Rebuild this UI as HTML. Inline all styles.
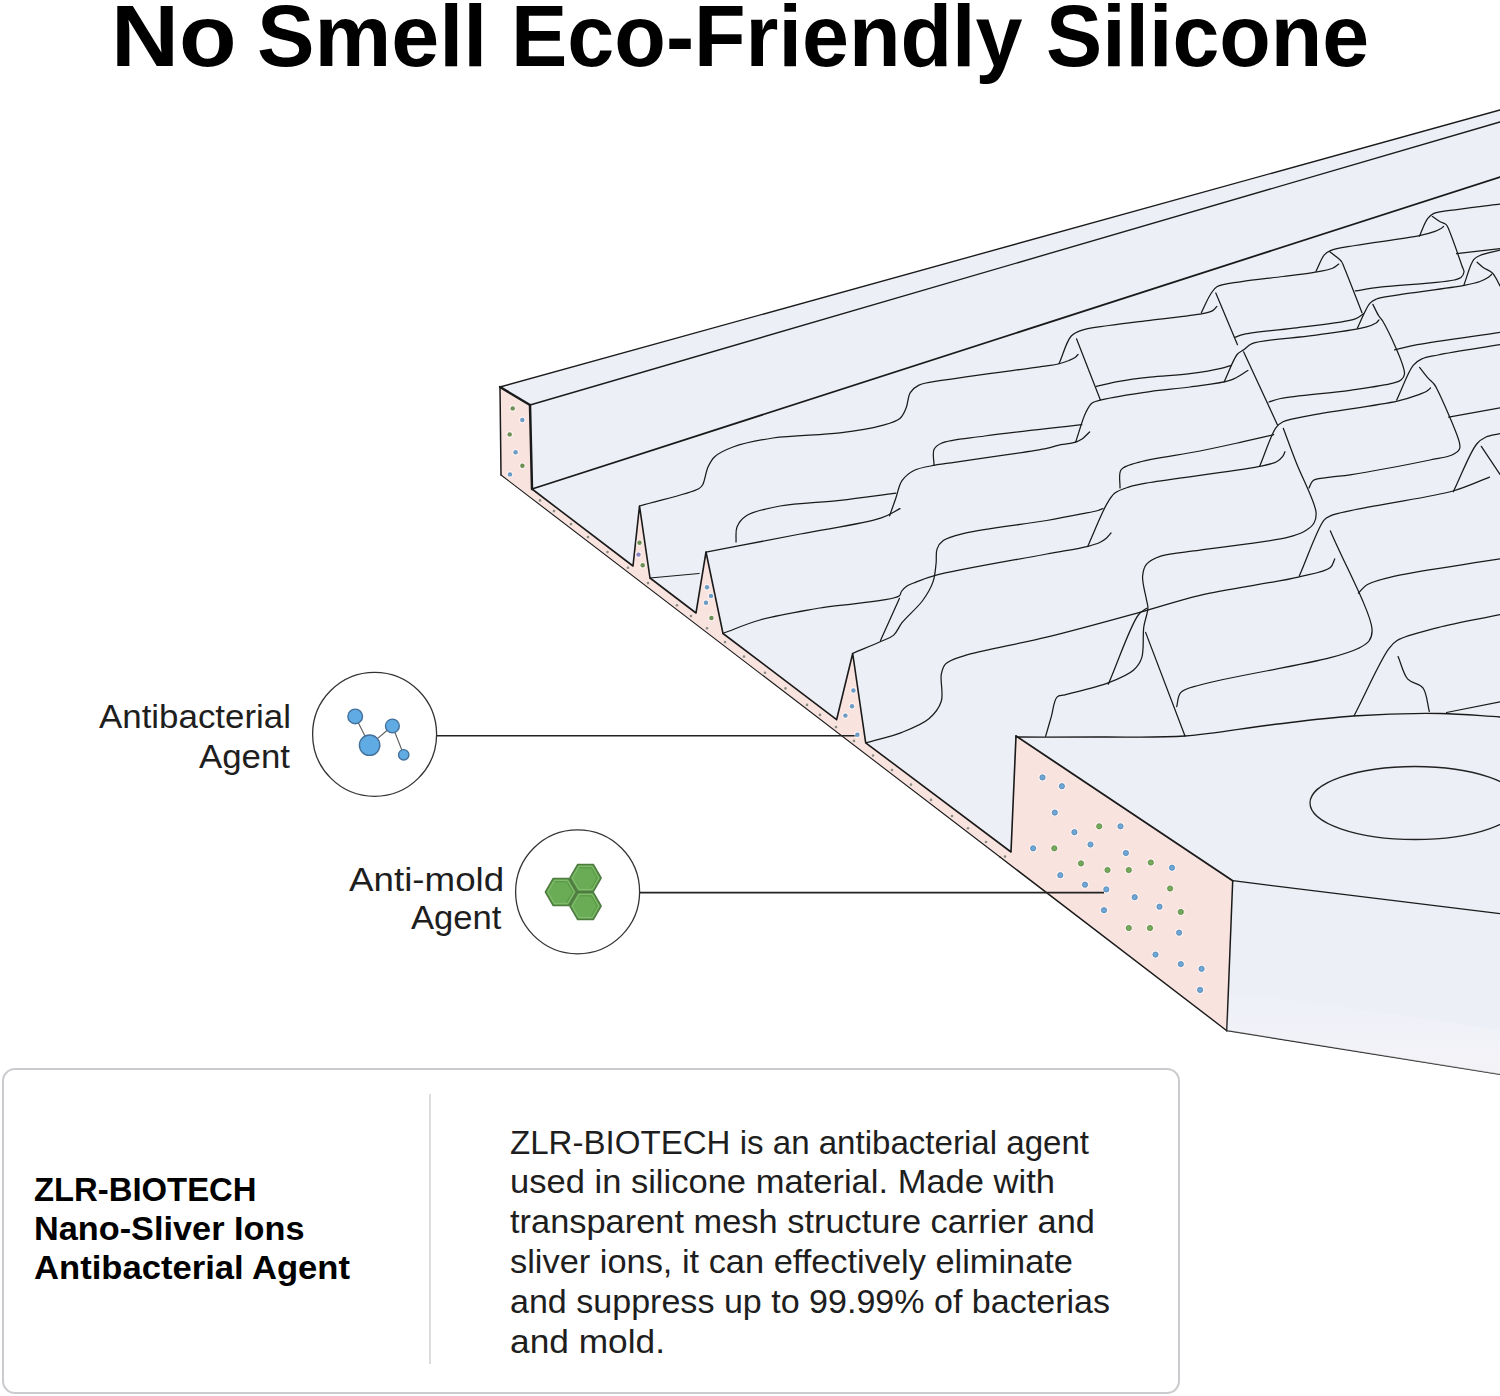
<!DOCTYPE html>
<html><head><meta charset="utf-8"><style>
html,body{margin:0;padding:0;background:#fff;width:1500px;height:1396px;overflow:hidden}
svg{display:block}
text{font-family:"Liberation Sans",sans-serif}
</style></head><body>
<svg width="1500" height="1396" viewBox="0 0 1500 1396">
<text x="111.0" y="66" font-size="87" font-weight="bold" fill="#000" textLength="125.6" lengthAdjust="spacingAndGlyphs">No</text>
<text x="257.0" y="66" font-size="87" font-weight="bold" fill="#000" textLength="230.2" lengthAdjust="spacingAndGlyphs">Smell</text>
<text x="511.0" y="66" font-size="87" font-weight="bold" fill="#000" textLength="511.5" lengthAdjust="spacingAndGlyphs">Eco-Friendly</text>
<text x="1046.0" y="66" font-size="87" font-weight="bold" fill="#000" textLength="323.1" lengthAdjust="spacingAndGlyphs">Silicone</text>
<polygon points="500.0,387.0 1500.0,110.0 1500.0,1075.0 1227.0,1031.0 501.0,475.0" fill="#edeff7"/>
<polygon points="500.0,387.0 530.0,405.0 532.0,489.0 633.0,566.0 639.5,506.0 650.0,578.0 696.0,613.0 706.0,552.0 723.0,633.5 836.6,719.7 852.7,653.5 865.7,742.8 1011.0,852.0 1016.0,736.0 1232.7,880.7 1226.8,1030.7 501.0,475.0" fill="#f9e3df"/>
<polyline points="501.0,475.0 500.0,387.0" fill="none" stroke="#1a1a1a" stroke-width="1.5" stroke-linejoin="round" stroke-linecap="round"/>
<polyline points="500.0,387.0 1500.0,110.0" fill="none" stroke="#1a1a1a" stroke-width="1.35" stroke-linejoin="round" stroke-linecap="round"/>
<polyline points="500.0,387.0 530.0,405.0" fill="none" stroke="#1a1a1a" stroke-width="2.4" stroke-linejoin="round" stroke-linecap="round"/>
<polyline points="530.0,405.0 1500.0,122.0" fill="none" stroke="#1a1a1a" stroke-width="1.35" stroke-linejoin="round" stroke-linecap="round"/>
<polyline points="530.0,405.0 532.0,489.0" fill="none" stroke="#1a1a1a" stroke-width="2.5" stroke-linejoin="round" stroke-linecap="round"/>
<polyline points="532.0,489.0 1500.0,177.0" fill="none" stroke="#1a1a1a" stroke-width="1.8" stroke-linejoin="round" stroke-linecap="round"/>
<polyline points="532.0,489.0 633.0,566.0 639.5,506.0 650.0,578.0 696.0,613.0 706.0,552.0 723.0,633.5 836.6,719.7 852.7,653.5 865.7,742.8 1011.0,852.0 1016.0,736.0" fill="none" stroke="#1a1a1a" stroke-width="1.6" stroke-linejoin="round" stroke-linecap="round"/>
<polyline points="1016.0,736.0 1232.7,880.7" fill="none" stroke="#1a1a1a" stroke-width="1.8" stroke-linejoin="round" stroke-linecap="round"/>
<polyline points="1232.7,880.7 1226.8,1030.7" fill="none" stroke="#1a1a1a" stroke-width="1.5" stroke-linejoin="round" stroke-linecap="round"/>
<polyline points="501.0,475.0 1000.0,857.0" fill="none" stroke="#1a1a1a" stroke-width="1.1" stroke-linejoin="round" stroke-linecap="round"/>
<polyline points="1000.0,857.0 1226.8,1030.7" fill="none" stroke="#1a1a1a" stroke-width="1.4" stroke-linejoin="round" stroke-linecap="round"/>
<polyline points="1226.8,1030.7 1500.0,1074.4" fill="none" stroke="#1a1a1a" stroke-width="1.2" stroke-linejoin="round" stroke-linecap="round"/>
<polyline points="1232.7,880.7 1500.0,913.7" fill="none" stroke="#1a1a1a" stroke-width="1.3" stroke-linejoin="round" stroke-linecap="round"/>
<defs><linearGradient id="gb" x1="0" y1="0" x2="0" y2="1"><stop offset="0" stop-color="#fff" stop-opacity="0"/><stop offset="1" stop-color="#f8f5f6" stop-opacity="0.55"/></linearGradient></defs>
<polygon points="1229.0,990.0 1500.0,1030.0 1500.0,1074.4 1226.8,1030.7" fill="url(#gb)"/>
<path d="M1016.0,737.0 C1044.0,737.0 1071.9,737.2 1100.0,737.0 C1128.2,736.8 1156.7,738.0 1185.0,736.0 C1213.4,734.0 1241.8,728.4 1270.0,725.0 C1297.8,721.7 1325.0,717.9 1353.0,716.0 C1381.6,714.0 1413.7,713.1 1440.0,713.5 C1461.9,713.8 1480.0,715.8 1500.0,717.0" fill="none" stroke="#1a1a1a" stroke-width="1.3" stroke-linecap="round"/>
<ellipse cx="1415" cy="803" rx="105" ry="36.5" fill="none" stroke="#222" stroke-width="1.3"/>
<circle cx="1042.5" cy="777.4" r="4" fill="#fff" fill-opacity="0.55"/><circle cx="1042.5" cy="777.4" r="2.6" fill="#6fa6d4" stroke="#4f86b6" stroke-width="0.8"/>
<circle cx="1061.9" cy="786.2" r="4" fill="#fff" fill-opacity="0.55"/><circle cx="1061.9" cy="786.2" r="2.6" fill="#6fa6d4" stroke="#4f86b6" stroke-width="0.8"/>
<circle cx="1054.8" cy="812.6" r="4" fill="#fff" fill-opacity="0.55"/><circle cx="1054.8" cy="812.6" r="2.6" fill="#6fa6d4" stroke="#4f86b6" stroke-width="0.8"/>
<circle cx="1074.4" cy="832.2" r="4" fill="#fff" fill-opacity="0.55"/><circle cx="1074.4" cy="832.2" r="2.6" fill="#6fa6d4" stroke="#4f86b6" stroke-width="0.8"/>
<circle cx="1120.5" cy="826.3" r="4" fill="#fff" fill-opacity="0.55"/><circle cx="1120.5" cy="826.3" r="2.6" fill="#6fa6d4" stroke="#4f86b6" stroke-width="0.8"/>
<circle cx="1090.5" cy="844.5" r="4" fill="#fff" fill-opacity="0.55"/><circle cx="1090.5" cy="844.5" r="2.6" fill="#6fa6d4" stroke="#4f86b6" stroke-width="0.8"/>
<circle cx="1033.1" cy="848.3" r="4" fill="#fff" fill-opacity="0.55"/><circle cx="1033.1" cy="848.3" r="2.6" fill="#6fa6d4" stroke="#4f86b6" stroke-width="0.8"/>
<circle cx="1125.9" cy="853" r="4" fill="#fff" fill-opacity="0.55"/><circle cx="1125.9" cy="853" r="2.6" fill="#6fa6d4" stroke="#4f86b6" stroke-width="0.8"/>
<circle cx="1172" cy="867.7" r="4" fill="#fff" fill-opacity="0.55"/><circle cx="1172" cy="867.7" r="2.6" fill="#6fa6d4" stroke="#4f86b6" stroke-width="0.8"/>
<circle cx="1060.3" cy="875.2" r="4" fill="#fff" fill-opacity="0.55"/><circle cx="1060.3" cy="875.2" r="2.6" fill="#6fa6d4" stroke="#4f86b6" stroke-width="0.8"/>
<circle cx="1085" cy="884.7" r="4" fill="#fff" fill-opacity="0.55"/><circle cx="1085" cy="884.7" r="2.6" fill="#6fa6d4" stroke="#4f86b6" stroke-width="0.8"/>
<circle cx="1106.3" cy="889.4" r="4" fill="#fff" fill-opacity="0.55"/><circle cx="1106.3" cy="889.4" r="2.6" fill="#6fa6d4" stroke="#4f86b6" stroke-width="0.8"/>
<circle cx="1134.7" cy="897.2" r="4" fill="#fff" fill-opacity="0.55"/><circle cx="1134.7" cy="897.2" r="2.6" fill="#6fa6d4" stroke="#4f86b6" stroke-width="0.8"/>
<circle cx="1159.5" cy="906.7" r="4" fill="#fff" fill-opacity="0.55"/><circle cx="1159.5" cy="906.7" r="2.6" fill="#6fa6d4" stroke="#4f86b6" stroke-width="0.8"/>
<circle cx="1104" cy="910.2" r="4" fill="#fff" fill-opacity="0.55"/><circle cx="1104" cy="910.2" r="2.6" fill="#6fa6d4" stroke="#4f86b6" stroke-width="0.8"/>
<circle cx="1179.1" cy="932.7" r="4" fill="#fff" fill-opacity="0.55"/><circle cx="1179.1" cy="932.7" r="2.6" fill="#6fa6d4" stroke="#4f86b6" stroke-width="0.8"/>
<circle cx="1155.5" cy="954.6" r="4" fill="#fff" fill-opacity="0.55"/><circle cx="1155.5" cy="954.6" r="2.6" fill="#6fa6d4" stroke="#4f86b6" stroke-width="0.8"/>
<circle cx="1180.8" cy="964.1" r="4" fill="#fff" fill-opacity="0.55"/><circle cx="1180.8" cy="964.1" r="2.6" fill="#6fa6d4" stroke="#4f86b6" stroke-width="0.8"/>
<circle cx="1201.6" cy="968.8" r="4" fill="#fff" fill-opacity="0.55"/><circle cx="1201.6" cy="968.8" r="2.6" fill="#6fa6d4" stroke="#4f86b6" stroke-width="0.8"/>
<circle cx="1200.1" cy="989.9" r="4" fill="#fff" fill-opacity="0.55"/><circle cx="1200.1" cy="989.9" r="2.6" fill="#6fa6d4" stroke="#4f86b6" stroke-width="0.8"/>
<circle cx="1099.2" cy="826.3" r="4" fill="#fff" fill-opacity="0.45"/><circle cx="1099.2" cy="826.3" r="2.6" fill="#74a85a" stroke="#5a8c45" stroke-width="0.8"/>
<circle cx="1054.3" cy="848.3" r="4" fill="#fff" fill-opacity="0.45"/><circle cx="1054.3" cy="848.3" r="2.6" fill="#74a85a" stroke="#5a8c45" stroke-width="0.8"/>
<circle cx="1081" cy="863.4" r="4" fill="#fff" fill-opacity="0.45"/><circle cx="1081" cy="863.4" r="2.6" fill="#74a85a" stroke="#5a8c45" stroke-width="0.8"/>
<circle cx="1107.5" cy="870" r="4" fill="#fff" fill-opacity="0.45"/><circle cx="1107.5" cy="870" r="2.6" fill="#74a85a" stroke="#5a8c45" stroke-width="0.8"/>
<circle cx="1128.8" cy="870" r="4" fill="#fff" fill-opacity="0.45"/><circle cx="1128.8" cy="870" r="2.6" fill="#74a85a" stroke="#5a8c45" stroke-width="0.8"/>
<circle cx="1150.8" cy="862.5" r="4" fill="#fff" fill-opacity="0.45"/><circle cx="1150.8" cy="862.5" r="2.6" fill="#74a85a" stroke="#5a8c45" stroke-width="0.8"/>
<circle cx="1170.1" cy="888.5" r="4" fill="#fff" fill-opacity="0.45"/><circle cx="1170.1" cy="888.5" r="2.6" fill="#74a85a" stroke="#5a8c45" stroke-width="0.8"/>
<circle cx="1180.8" cy="911.9" r="4" fill="#fff" fill-opacity="0.45"/><circle cx="1180.8" cy="911.9" r="2.6" fill="#74a85a" stroke="#5a8c45" stroke-width="0.8"/>
<circle cx="1128.8" cy="928" r="4" fill="#fff" fill-opacity="0.45"/><circle cx="1128.8" cy="928" r="2.6" fill="#74a85a" stroke="#5a8c45" stroke-width="0.8"/>
<circle cx="1150" cy="928" r="4" fill="#fff" fill-opacity="0.45"/><circle cx="1150" cy="928" r="2.6" fill="#74a85a" stroke="#5a8c45" stroke-width="0.8"/>
<circle cx="374.6" cy="734.3" r="62" fill="#fff" stroke="#333" stroke-width="1.3"/>
<line x1="437" y1="735.8" x2="856" y2="735.8" stroke="#222" stroke-width="1.6"/>
<circle cx="577.6" cy="891.8" r="62" fill="#fff" stroke="#333" stroke-width="1.3"/>
<line x1="640" y1="892.6" x2="1104" y2="892.6" stroke="#222" stroke-width="1.6"/>
<g stroke="#5c5c5c" stroke-width="1.1"><line x1="355.2" y1="716.4" x2="369.6" y2="745.2"/><line x1="369.6" y1="745.2" x2="392.4" y2="726"/><line x1="392.4" y1="726" x2="403.7" y2="754.8"/></g>
<circle cx="369.6" cy="745.2" r="10.2" fill="#60abe4" stroke="#43709a" stroke-width="1.4"/>
<circle cx="355.2" cy="716.4" r="7.3" fill="#60abe4" stroke="#43709a" stroke-width="1.4"/>
<circle cx="392.4" cy="726" r="6.9" fill="#60abe4" stroke="#43709a" stroke-width="1.4"/>
<circle cx="403.7" cy="754.8" r="5.2" fill="#60abe4" stroke="#43709a" stroke-width="1.4"/>
<polygon points="576.6,892.0 568.8,905.5 553.2,905.5 545.4,892.0 553.2,878.5 568.8,878.5" fill="#6aac56" stroke="#4f7b41" stroke-width="1.5" stroke-linejoin="round"/>
<polygon points="574.2,892.0 567.6,903.4 554.4,903.4 547.8,892.0 554.4,880.6 567.6,880.6" fill="none" stroke="#88bf74" stroke-width="0.9" stroke-linejoin="round"/>
<polyline points="555.1,881.8 566.9,881.8 572.8,892.0 566.9,902.2" fill="none" stroke="#54963f" stroke-width="1" stroke-linejoin="round"/>
<polygon points="601.1,878.0 593.3,891.5 577.7,891.5 569.9,878.0 577.7,864.5 593.3,864.5" fill="#6aac56" stroke="#4f7b41" stroke-width="1.5" stroke-linejoin="round"/>
<polygon points="598.7,878.0 592.1,889.4 578.9,889.4 572.3,878.0 578.9,866.6 592.1,866.6" fill="none" stroke="#88bf74" stroke-width="0.9" stroke-linejoin="round"/>
<polyline points="579.6,867.8 591.4,867.8 597.3,878.0 591.4,888.2" fill="none" stroke="#54963f" stroke-width="1" stroke-linejoin="round"/>
<polygon points="601.1,906.0 593.3,919.5 577.7,919.5 569.9,906.0 577.7,892.5 593.3,892.5" fill="#6aac56" stroke="#4f7b41" stroke-width="1.5" stroke-linejoin="round"/>
<polygon points="598.7,906.0 592.1,917.4 578.9,917.4 572.3,906.0 578.9,894.6 592.1,894.6" fill="none" stroke="#88bf74" stroke-width="0.9" stroke-linejoin="round"/>
<polyline points="579.6,895.8 591.4,895.8 597.3,906.0 591.4,916.2" fill="none" stroke="#54963f" stroke-width="1" stroke-linejoin="round"/>
<text x="99" y="728.4" font-size="33" font-weight="normal" fill="#1e1e1e" textLength="192" lengthAdjust="spacingAndGlyphs">Antibacterial</text>
<text x="199" y="768" font-size="33" font-weight="normal" fill="#1e1e1e" textLength="91" lengthAdjust="spacingAndGlyphs">Agent</text>
<text x="349" y="890.5" font-size="33" font-weight="normal" fill="#1e1e1e" textLength="155.2" lengthAdjust="spacingAndGlyphs">Anti-mold</text>
<text x="411" y="929" font-size="33" font-weight="normal" fill="#1e1e1e" textLength="90.5" lengthAdjust="spacingAndGlyphs">Agent</text>
<rect x="3" y="1069" width="1176" height="324" rx="12" ry="12" fill="#fff" stroke="#c9cbce" stroke-width="2"/>
<line x1="430" y1="1094" x2="430" y2="1364" stroke="#cfd0d2" stroke-width="1.5"/>
<text x="34" y="1200.8" font-size="34" font-weight="bold" fill="#000" textLength="222.5" lengthAdjust="spacingAndGlyphs">ZLR-BIOTECH</text>
<text x="34" y="1239.5" font-size="34" font-weight="bold" fill="#000" textLength="270.5" lengthAdjust="spacingAndGlyphs">Nano-Sliver Ions</text>
<text x="34" y="1279.2" font-size="34" font-weight="bold" fill="#000" textLength="316" lengthAdjust="spacingAndGlyphs">Antibacterial Agent</text>
<text x="510" y="1153.5" font-size="33" font-weight="normal" fill="#1e1e1e" textLength="579" lengthAdjust="spacingAndGlyphs">ZLR-BIOTECH is an antibacterial agent</text>
<text x="510" y="1193.2" font-size="33" font-weight="normal" fill="#1e1e1e" textLength="545" lengthAdjust="spacingAndGlyphs">used in silicone material. Made with</text>
<text x="510" y="1233" font-size="33" font-weight="normal" fill="#1e1e1e" textLength="585" lengthAdjust="spacingAndGlyphs">transparent mesh structure carrier and</text>
<text x="510" y="1272.6" font-size="33" font-weight="normal" fill="#1e1e1e" textLength="563" lengthAdjust="spacingAndGlyphs">sliver ions, it can effectively eliminate</text>
<text x="510" y="1312.6" font-size="33" font-weight="normal" fill="#1e1e1e" textLength="600" lengthAdjust="spacingAndGlyphs">and suppress up to 99.99% of bacterias</text>
<text x="510" y="1352.5" font-size="33" font-weight="normal" fill="#1e1e1e" textLength="155" lengthAdjust="spacingAndGlyphs">and mold.</text>
<path d="M639.5,506.0 C659.2,500.2 690.7,493.4 698.7,488.7 C701.1,487.3 701.5,486.7 702.7,484.7 C704.9,481.0 705.7,472.0 708.0,467.0 C709.9,462.9 711.4,459.7 714.7,456.7 C719.0,452.8 725.5,449.8 733.0,447.0 C743.6,443.1 757.9,440.3 773.0,438.0 C792.4,435.1 820.4,435.3 840.0,432.9 C855.5,431.0 870.4,428.7 881.3,425.7 C888.8,423.6 895.7,422.1 899.9,418.5 C903.2,415.7 904.4,412.0 906.1,408.1 C908.0,403.6 907.8,396.5 910.3,392.6 C912.3,389.4 914.7,387.3 918.5,385.4 C924.3,382.5 932.2,382.1 943.3,380.2 C965.9,376.3 1029.6,368.4 1046.7,365.8 C1052.4,365.0 1054.3,364.9 1058.0,364.0 C1061.7,363.1 1065.9,361.7 1069.0,360.5 C1071.3,359.5 1073.4,358.6 1075.0,357.5 C1076.3,356.6 1077.0,355.5 1078.0,354.5" fill="none" stroke="#1a1a1a" stroke-width="1.25" stroke-linecap="round"/>
<path d="M1059.0,363.7 C1063.2,354.4 1066.2,341.4 1071.5,335.8 C1075.1,332.0 1078.9,331.2 1083.9,329.6 C1090.6,327.4 1099.4,326.9 1108.7,325.5 C1120.7,323.8 1135.4,322.1 1150.0,320.3 C1166.4,318.2 1191.7,316.0 1202.4,313.7 C1207.2,312.7 1210.2,312.1 1212.7,310.6 C1214.6,309.5 1215.5,307.8 1216.9,306.4" fill="none" stroke="#1a1a1a" stroke-width="1.25" stroke-linecap="round"/>
<path d="M1076.6,338.9 L1100.4,399.9" fill="none" stroke="#1a1a1a" stroke-width="1.25" stroke-linecap="round"/>
<path d="M1096.3,386.4 C1103.9,384.7 1110.8,382.8 1119.0,381.3 C1128.5,379.6 1139.0,378.3 1150.0,377.1 C1162.5,375.7 1177.5,375.2 1190.0,373.6 C1201.0,372.2 1213.5,370.2 1221.0,368.4 C1225.4,367.4 1227.9,366.3 1231.3,365.3" fill="none" stroke="#1a1a1a" stroke-width="1.25" stroke-linecap="round"/>
<path d="M1075.6,442.2 C1079.0,432.2 1082.4,419.3 1085.9,412.3 C1088.0,408.1 1089.4,405.1 1092.1,403.0 C1094.6,401.1 1097.0,401.0 1101.4,399.9 C1111.2,397.4 1134.6,393.8 1150.0,391.6 C1164.0,389.6 1176.6,388.9 1190.0,387.0 C1203.7,385.0 1220.9,383.5 1231.3,379.8 C1238.3,377.3 1242.4,373.6 1247.9,370.5" fill="none" stroke="#1a1a1a" stroke-width="1.25" stroke-linecap="round"/>
<path d="M1201.4,312.6 C1204.5,306.4 1207.6,298.6 1210.7,294.0 C1212.8,290.9 1213.7,288.7 1216.9,286.8 C1222.1,283.7 1232.3,283.2 1241.7,281.6 C1253.7,279.6 1270.2,278.2 1283.0,276.5 C1294.1,275.1 1305.0,273.9 1314.0,272.3 C1321.0,271.1 1328.2,270.1 1332.6,268.2 C1335.4,267.0 1336.7,265.5 1338.8,264.1" fill="none" stroke="#1a1a1a" stroke-width="1.25" stroke-linecap="round"/>
<path d="M1215.8,293.0 L1237.5,344.7" fill="none" stroke="#1a1a1a" stroke-width="1.25" stroke-linecap="round"/>
<path d="M1234.4,337.4 C1237.5,336.4 1239.3,335.3 1243.7,334.3 C1253.6,332.0 1275.9,330.5 1293.3,328.1 C1312.8,325.4 1344.4,322.8 1355.3,318.8 C1359.6,317.2 1360.8,315.4 1363.6,313.7" fill="none" stroke="#1a1a1a" stroke-width="1.25" stroke-linecap="round"/>
<path d="M1224.1,381.9 C1228.6,372.6 1233.2,359.0 1237.5,354.0 C1239.6,351.6 1241.5,351.4 1243.7,349.8 C1246.3,348.0 1247.6,345.4 1252.0,343.6 C1262.8,339.2 1294.3,338.3 1314.0,335.4 C1332.0,332.8 1355.2,330.0 1365.7,327.1 C1370.6,325.8 1373.7,324.5 1376.0,323.0 C1377.4,322.0 1378.0,320.9 1379.0,319.9" fill="none" stroke="#1a1a1a" stroke-width="1.25" stroke-linecap="round"/>
<path d="M1316.0,271.3 C1318.8,265.8 1321.2,258.3 1324.3,254.8 C1326.2,252.6 1327.6,251.8 1330.5,250.6 C1335.9,248.3 1345.1,247.3 1355.3,245.5 C1371.7,242.6 1405.5,238.6 1419.5,235.6 C1426.5,234.1 1431.1,232.7 1435.0,231.3 C1437.5,230.4 1439.5,229.4 1441.0,228.5 C1442.1,227.8 1442.7,227.2 1443.5,226.5" fill="none" stroke="#1a1a1a" stroke-width="1.25" stroke-linecap="round"/>
<path d="M1329.6,251.6 C1331.7,253.3 1334.0,254.9 1336.0,256.6 C1337.9,258.2 1340.1,259.7 1341.5,261.5 C1342.7,263.2 1342.8,264.3 1344.0,267.0 C1347.3,274.8 1356.0,297.5 1362.0,312.8" fill="none" stroke="#1a1a1a" stroke-width="1.25" stroke-linecap="round"/>
<path d="M1432.4,216.6 C1435.0,218.3 1437.7,220.4 1440.2,221.8 C1442.3,223.0 1444.7,223.2 1446.2,224.6 C1447.6,226.0 1447.8,227.3 1449.0,230.0 C1451.9,236.6 1459.6,259.0 1462.0,266.0 C1463.0,268.8 1464.2,270.1 1464.0,272.0 C1463.8,273.9 1462.5,276.2 1461.0,277.5 C1459.3,278.9 1457.0,279.3 1454.0,280.0 C1448.7,281.3 1440.6,281.9 1431.6,282.8 C1417.9,284.2 1394.0,285.4 1380.0,287.1 C1370.2,288.3 1363.5,289.6 1355.3,290.9" fill="none" stroke="#1a1a1a" stroke-width="1.25" stroke-linecap="round"/>
<path d="M1419.4,236.2 C1422.1,230.3 1424.6,222.5 1427.6,218.6 C1429.6,216.1 1430.9,214.8 1433.9,213.4 C1439.2,211.0 1449.4,210.7 1458.7,209.3 C1470.7,207.6 1486.2,205.8 1500.0,204.1" fill="none" stroke="#1a1a1a" stroke-width="1.25" stroke-linecap="round"/>
<path d="M1456.6,253.7 L1500.0,248.6" fill="none" stroke="#1a1a1a" stroke-width="1.25" stroke-linecap="round"/>
<path d="M1463.8,285.4 C1467.1,276.8 1469.9,264.3 1473.7,259.6 C1475.7,257.2 1477.2,256.8 1480.0,255.5 C1484.7,253.4 1493.3,252.0 1500.0,250.2" fill="none" stroke="#1a1a1a" stroke-width="1.25" stroke-linecap="round"/>
<path d="M1477.1,262.2 C1479.1,263.9 1480.9,265.8 1483.2,267.4 C1485.8,269.2 1489.7,270.7 1491.8,272.5 C1493.4,273.9 1494.1,275.0 1495.2,276.8 C1496.8,279.2 1498.4,282.9 1500.0,286.0" fill="none" stroke="#1a1a1a" stroke-width="1.25" stroke-linecap="round"/>
<path d="M650.0,578.0 L699.0,573.5" fill="none" stroke="#1a1a1a" stroke-width="1.25" stroke-linecap="round"/>
<path d="M706.0,552.2 C737.4,546.1 770.1,539.9 800.3,534.0 C828.3,528.5 864.0,523.8 881.3,517.9 C890.0,514.9 893.8,511.7 900.0,508.6" fill="none" stroke="#1a1a1a" stroke-width="1.25" stroke-linecap="round"/>
<path d="M736.0,542.0 C736.3,537.0 735.3,531.4 737.0,527.0 C738.7,522.7 741.4,519.1 746.0,516.0 C753.3,511.2 766.9,508.5 780.0,506.0 C797.0,502.7 820.4,502.5 840.0,500.3 C859.0,498.2 877.2,495.5 895.8,493.1" fill="none" stroke="#1a1a1a" stroke-width="1.25" stroke-linecap="round"/>
<path d="M889.6,515.8 C891.7,509.9 893.7,504.1 895.8,498.2 C897.9,492.4 898.7,485.4 902.0,480.7 C905.1,476.3 909.4,472.8 914.4,470.3 C920.1,467.4 929.8,466.3 935.1,465.2 C938.4,464.5 939.0,464.6 943.3,463.9 C958.4,461.6 1029.6,452.0 1046.7,448.4 C1052.4,447.2 1053.9,446.2 1058.0,445.3 C1062.8,444.2 1069.4,444.0 1073.8,442.7 C1077.1,441.7 1079.5,440.7 1082.1,439.0 C1084.8,437.2 1087.1,434.3 1089.6,432.0" fill="none" stroke="#1a1a1a" stroke-width="1.25" stroke-linecap="round"/>
<path d="M934.0,465.0 C934.0,459.8 932.3,453.2 934.0,449.5 C935.4,446.6 937.5,445.1 941.3,443.3 C949.5,439.5 967.3,438.5 984.7,436.0 C1010.6,432.3 1049.4,428.5 1081.8,424.7" fill="none" stroke="#1a1a1a" stroke-width="1.25" stroke-linecap="round"/>
<path d="M1120.0,488.0 C1120.3,482.0 1118.2,474.2 1121.0,470.0 C1123.7,466.0 1129.1,465.2 1136.0,463.0 C1149.7,458.6 1180.8,454.9 1200.0,451.0 C1215.9,447.8 1230.1,444.6 1243.3,441.7 C1254.3,439.2 1263.6,437.0 1273.7,434.7" fill="none" stroke="#1a1a1a" stroke-width="1.25" stroke-linecap="round"/>
<path d="M1088.0,545.8 C1094.2,532.0 1101.2,513.7 1106.6,504.4 C1109.6,499.2 1111.3,496.0 1114.9,493.1 C1118.7,490.0 1124.0,488.6 1129.3,486.9 C1135.5,484.9 1140.4,484.2 1150.0,482.5 C1171.9,478.6 1237.3,471.1 1258.3,466.7 C1267.1,464.9 1272.5,464.0 1276.7,461.7 C1279.4,460.3 1281.1,458.5 1282.5,456.7 C1283.7,455.1 1284.2,453.4 1285.0,451.7" fill="none" stroke="#1a1a1a" stroke-width="1.25" stroke-linecap="round"/>
<path d="M852.4,653.5 C862.0,649.4 873.7,644.8 881.3,641.3 C886.3,639.0 890.3,638.1 893.7,635.1 C897.2,632.0 898.4,627.3 902.0,622.7 C907.2,616.2 917.3,607.9 922.7,600.5 C927.2,594.3 930.8,588.3 933.0,581.9 C935.1,575.9 935.4,569.1 936.1,563.3 C936.7,558.2 935.6,552.9 937.1,548.9 C938.3,545.5 940.1,542.9 943.3,540.6 C947.9,537.2 954.7,535.7 964.0,533.4 C982.3,528.8 1024.8,524.3 1046.7,520.5 C1061.2,518.0 1073.2,515.6 1082.7,513.7 C1088.9,512.5 1094.3,511.6 1098.0,510.5 C1100.2,509.8 1101.3,509.2 1103.0,508.5" fill="none" stroke="#1a1a1a" stroke-width="1.25" stroke-linecap="round"/>
<path d="M723.0,633.4 C735.3,628.9 746.0,623.9 760.0,620.0 C777.4,615.1 798.6,611.8 820.0,608.0 C844.5,603.7 891.4,601.7 899.1,596.1 C901.1,594.7 900.3,593.0 901.4,591.5 C902.7,589.7 904.5,587.8 906.6,586.3 C909.1,584.6 912.2,583.6 915.9,582.1 C921.0,580.1 925.6,578.0 934.5,575.6 C956.0,569.8 1018.4,559.4 1046.7,554.0 C1063.8,550.8 1078.5,548.7 1088.0,546.3 C1093.1,545.0 1096.5,544.0 1099.7,542.5 C1102.2,541.3 1104.1,540.1 1106.0,538.5 C1107.9,536.9 1109.3,534.8 1111.0,533.0" fill="none" stroke="#1a1a1a" stroke-width="1.25" stroke-linecap="round"/>
<path d="M880.5,640.4 L899.5,598.3" fill="none" stroke="#1a1a1a" stroke-width="1.25" stroke-linecap="round"/>
<path d="M866.4,742.7 C878.3,739.2 891.1,736.6 902.0,732.3 C911.8,728.5 922.1,724.6 928.9,718.8 C934.6,713.9 939.1,708.2 941.3,701.3 C943.7,693.6 940.0,681.2 941.3,674.4 C942.1,670.1 942.7,666.9 945.4,664.1 C949.1,660.2 955.4,658.7 964.0,655.8 C981.6,650.0 1018.4,644.2 1046.7,637.2 C1076.8,629.8 1112.0,620.0 1139.6,612.4 C1161.9,606.3 1177.3,600.6 1200.0,595.3 C1228.6,588.6 1274.5,582.8 1298.2,577.1 C1312.0,573.8 1324.9,572.1 1330.4,567.5 C1333.3,565.0 1333.3,561.8 1334.7,558.9" fill="none" stroke="#1a1a1a" stroke-width="1.25" stroke-linecap="round"/>
<path d="M1045.6,736.4 C1047.5,729.8 1049.4,723.3 1051.3,716.7 C1053.2,710.2 1053.7,700.3 1057.0,697.1 C1059.1,695.0 1061.3,695.9 1065.0,694.9 C1073.7,692.5 1096.4,687.5 1108.7,682.7 C1118.3,679.0 1127.7,675.3 1133.4,670.3 C1137.6,666.6 1139.9,663.3 1141.7,657.9 C1144.3,650.1 1142.5,635.9 1143.8,626.9 C1144.8,619.9 1147.8,613.2 1147.9,608.3 C1148.0,605.1 1147.2,603.7 1146.6,600.3 C1145.6,594.4 1142.1,582.8 1142.6,576.2 C1143.0,571.5 1143.9,567.4 1146.6,564.2 C1149.6,560.5 1154.6,558.3 1160.7,556.2 C1170.3,552.9 1184.3,552.5 1200.0,550.2 C1223.4,546.7 1269.6,541.9 1287.5,537.4 C1295.7,535.3 1300.3,533.8 1305.0,531.0 C1308.8,528.8 1312.2,526.2 1314.0,523.0 C1315.8,519.9 1316.5,516.9 1316.0,512.0 C1314.9,501.3 1301.8,477.1 1296.0,462.0 C1291.2,449.7 1287.5,439.5 1283.3,428.3" fill="none" stroke="#1a1a1a" stroke-width="1.25" stroke-linecap="round"/>
<path d="M1243.7,351.9 L1277.5,425.0" fill="none" stroke="#1a1a1a" stroke-width="1.25" stroke-linecap="round"/>
<path d="M1108.3,684.2 C1118.3,661.1 1130.2,625.6 1138.3,615.0 C1141.4,611.0 1143.9,610.5 1146.7,608.3" fill="none" stroke="#1a1a1a" stroke-width="1.25" stroke-linecap="round"/>
<path d="M1145.6,632.4 L1185.0,736.0" fill="none" stroke="#1a1a1a" stroke-width="1.25" stroke-linecap="round"/>
<path d="M1176.7,706.6 C1178.0,701.9 1177.5,696.1 1180.7,692.6 C1184.5,688.4 1190.5,687.8 1200.0,685.0 C1224.0,677.8 1303.1,665.1 1330.4,657.7 C1343.1,654.3 1351.1,651.9 1358.0,648.5 C1362.7,646.2 1366.7,644.3 1369.0,641.0 C1371.2,637.8 1372.5,634.8 1372.0,629.0 C1370.7,611.9 1344.3,563.6 1330.4,530.9" fill="none" stroke="#1a1a1a" stroke-width="1.25" stroke-linecap="round"/>
<path d="M1419.5,367.4 C1422.1,370.7 1424.8,374.5 1427.4,377.4 C1429.6,379.9 1432.3,381.9 1434.0,384.0 C1435.3,385.7 1435.7,386.4 1437.0,389.0 C1441.2,397.3 1457.7,433.9 1459.5,443.0 C1460.1,445.9 1460.4,447.2 1459.5,449.0 C1458.4,451.3 1455.4,453.4 1452.0,455.0 C1446.8,457.5 1439.6,458.0 1430.0,460.0 C1411.7,463.8 1367.7,472.1 1350.0,474.8 C1341.3,476.1 1336.7,476.2 1330.4,477.2 C1324.5,478.1 1316.7,477.8 1313.2,480.4 C1310.7,482.2 1310.4,485.5 1309.0,488.0" fill="none" stroke="#1a1a1a" stroke-width="1.25" stroke-linecap="round"/>
<path d="M1299.3,576.0 C1307.5,557.4 1317.4,528.1 1324.0,520.2 C1326.3,517.4 1327.1,517.3 1330.4,515.9 C1338.2,512.5 1356.8,509.6 1373.4,506.2 C1395.8,501.5 1431.8,497.0 1453.0,491.0 C1467.7,486.8 1477.3,481.8 1489.5,477.2" fill="none" stroke="#1a1a1a" stroke-width="1.25" stroke-linecap="round"/>
<path d="M1358.4,593.2 C1361.3,590.4 1362.9,587.1 1367.0,584.7 C1373.4,580.9 1382.5,579.0 1394.9,576.1 C1418.6,570.5 1465.0,564.6 1500.0,558.9" fill="none" stroke="#1a1a1a" stroke-width="1.25" stroke-linecap="round"/>
<path d="M1354.1,715.7 C1365.6,693.5 1380.1,660.5 1388.5,649.1 C1391.9,644.5 1392.7,643.2 1397.1,640.5 C1405.3,635.5 1422.8,631.6 1437.9,627.6 C1456.3,622.8 1479.3,619.0 1500.0,614.7" fill="none" stroke="#1a1a1a" stroke-width="1.25" stroke-linecap="round"/>
<path d="M1398.1,656.6 C1401.3,664.1 1403.1,673.9 1407.8,679.2 C1411.8,683.6 1419.3,683.2 1422.9,687.8 C1427.1,693.3 1427.2,703.6 1429.3,711.5" fill="none" stroke="#1a1a1a" stroke-width="1.25" stroke-linecap="round"/>
<path d="M1446.5,712.5 L1500.0,701.8" fill="none" stroke="#1a1a1a" stroke-width="1.25" stroke-linecap="round"/>
<path d="M1453.3,491.8 C1461.1,475.9 1469.7,452.5 1476.7,444.0 C1480.0,440.0 1482.4,438.7 1486.0,437.0 C1490.0,435.1 1495.3,434.7 1500.0,433.5" fill="none" stroke="#1a1a1a" stroke-width="1.25" stroke-linecap="round"/>
<path d="M1481.3,446.3 L1500.0,474.3" fill="none" stroke="#1a1a1a" stroke-width="1.25" stroke-linecap="round"/>
<path d="M1448.7,417.2 L1500.0,407.8" fill="none" stroke="#1a1a1a" stroke-width="1.25" stroke-linecap="round"/>
<path d="M1259.7,466.2 C1265.1,453.4 1270.9,434.7 1276.0,427.7 C1278.4,424.4 1279.6,423.5 1283.0,421.8 C1289.3,418.6 1300.6,417.3 1313.3,414.8 C1334.3,410.7 1378.6,405.4 1397.3,401.1 C1406.9,398.9 1413.4,396.6 1418.8,394.6 C1422.2,393.3 1424.9,392.3 1427.0,391.0 C1428.5,390.1 1429.3,389.0 1430.5,388.0" fill="none" stroke="#1a1a1a" stroke-width="1.25" stroke-linecap="round"/>
<path d="M1269.0,402.0 C1272.9,400.8 1275.1,399.7 1280.7,398.5 C1294.1,395.7 1329.7,393.2 1350.0,390.3 C1366.1,388.0 1384.4,385.6 1393.0,383.2 C1396.8,382.1 1399.1,381.7 1401.0,380.0 C1402.7,378.5 1404.3,377.1 1404.5,374.0 C1405.1,365.2 1387.9,330.0 1383.0,321.5 C1381.3,318.5 1380.1,318.1 1378.7,315.8 C1376.8,312.7 1374.8,308.2 1372.9,304.4" fill="none" stroke="#1a1a1a" stroke-width="1.25" stroke-linecap="round"/>
<path d="M1394.6,349.8 C1402.2,348.1 1407.3,346.6 1417.3,344.7 C1436.2,341.2 1472.4,336.4 1500.0,332.3" fill="none" stroke="#1a1a1a" stroke-width="1.25" stroke-linecap="round"/>
<path d="M1357.4,328.1 C1361.5,319.8 1365.8,307.9 1369.8,303.3 C1371.9,300.9 1373.2,300.4 1376.0,299.2 C1380.8,297.2 1387.8,296.6 1396.7,295.1 C1412.7,292.4 1449.6,288.2 1464.2,285.4 C1471.3,284.0 1475.7,283.1 1480.0,281.5 C1483.2,280.3 1485.9,278.9 1488.0,277.5 C1489.5,276.5 1490.3,275.5 1491.5,274.5" fill="none" stroke="#1a1a1a" stroke-width="1.25" stroke-linecap="round"/>
<path d="M1396.7,400.0 C1402.2,388.4 1407.8,371.9 1413.2,365.3 C1416.0,361.9 1418.0,360.7 1421.4,359.1 C1425.8,357.0 1430.7,356.5 1438.0,355.0 C1452.1,352.1 1479.3,348.1 1500.0,344.7" fill="none" stroke="#1a1a1a" stroke-width="1.25" stroke-linecap="round"/>
<circle cx="540" cy="500.4" r="1.3" fill="#8a8f86"/>
<circle cx="554" cy="511.1" r="1.3" fill="#8a8f86"/>
<circle cx="571" cy="524.1" r="1.3" fill="#8a8f86"/>
<circle cx="588" cy="537.1" r="1.3" fill="#8a8f86"/>
<circle cx="607.5" cy="552.1" r="1.3" fill="#8a8f86"/>
<circle cx="628" cy="567.8" r="1.3" fill="#8a8f86"/>
<circle cx="648" cy="583.1" r="1.3" fill="#8a8f86"/>
<circle cx="677" cy="605.3" r="1.3" fill="#8a8f86"/>
<circle cx="691" cy="616.0" r="1.3" fill="#8a8f86"/>
<circle cx="707" cy="628.3" r="1.3" fill="#8a8f86"/>
<circle cx="725" cy="642.1" r="1.3" fill="#8a8f86"/>
<circle cx="744" cy="656.6" r="1.3" fill="#8a8f86"/>
<circle cx="765" cy="672.7" r="1.3" fill="#8a8f86"/>
<circle cx="785.5" cy="688.4" r="1.3" fill="#8a8f86"/>
<circle cx="807" cy="704.9" r="1.3" fill="#8a8f86"/>
<circle cx="820" cy="714.9" r="1.3" fill="#8a8f86"/>
<circle cx="836" cy="727.1" r="1.3" fill="#8a8f86"/>
<circle cx="854" cy="740.9" r="1.3" fill="#8a8f86"/>
<circle cx="873" cy="755.5" r="1.3" fill="#8a8f86"/>
<circle cx="892" cy="770.0" r="1.3" fill="#8a8f86"/>
<circle cx="911" cy="784.6" r="1.3" fill="#8a8f86"/>
<circle cx="931" cy="799.9" r="1.3" fill="#8a8f86"/>
<circle cx="952" cy="816.0" r="1.3" fill="#8a8f86"/>
<circle cx="968" cy="828.2" r="1.3" fill="#8a8f86"/>
<circle cx="986" cy="842.0" r="1.3" fill="#8a8f86"/>
<circle cx="1005" cy="856.6" r="1.3" fill="#8a8f86"/>
<circle cx="512.7" cy="408.4" r="3.4" fill="#fff" fill-opacity="0.45"/><circle cx="512.7" cy="408.4" r="2.2" fill="#6b8f55"/>
<circle cx="522.3" cy="420" r="3.4" fill="#fff" fill-opacity="0.45"/><circle cx="522.3" cy="420" r="2.2" fill="#6b9cc6"/>
<circle cx="509.7" cy="434.4" r="3.4" fill="#fff" fill-opacity="0.45"/><circle cx="509.7" cy="434.4" r="2.2" fill="#6b8f55"/>
<circle cx="515.6" cy="452.3" r="3.4" fill="#fff" fill-opacity="0.45"/><circle cx="515.6" cy="452.3" r="2.2" fill="#6b9cc6"/>
<circle cx="522.4" cy="465.7" r="3.4" fill="#fff" fill-opacity="0.45"/><circle cx="522.4" cy="465.7" r="2.2" fill="#6b8f55"/>
<circle cx="510" cy="474.4" r="3.4" fill="#fff" fill-opacity="0.45"/><circle cx="510" cy="474.4" r="2.2" fill="#6b9cc6"/>
<circle cx="639.5" cy="542.8" r="3.4" fill="#fff" fill-opacity="0.45"/><circle cx="639.5" cy="542.8" r="2.2" fill="#6b8f55"/>
<circle cx="638.5" cy="554.6" r="3.4" fill="#fff" fill-opacity="0.45"/><circle cx="638.5" cy="554.6" r="2.2" fill="#8486c4"/>
<circle cx="642.7" cy="565.3" r="3.4" fill="#fff" fill-opacity="0.45"/><circle cx="642.7" cy="565.3" r="2.2" fill="#6b8f55"/>
<circle cx="707" cy="587.3" r="3.4" fill="#fff" fill-opacity="0.45"/><circle cx="707" cy="587.3" r="2.2" fill="#6b9cc6"/>
<circle cx="711" cy="595.9" r="3.4" fill="#fff" fill-opacity="0.45"/><circle cx="711" cy="595.9" r="2.2" fill="#6b9cc6"/>
<circle cx="706" cy="602.7" r="3.4" fill="#fff" fill-opacity="0.45"/><circle cx="706" cy="602.7" r="2.2" fill="#6b9cc6"/>
<circle cx="711.4" cy="618" r="3.4" fill="#fff" fill-opacity="0.45"/><circle cx="711.4" cy="618" r="2.2" fill="#6b8f55"/>
<circle cx="853.4" cy="690.5" r="3.4" fill="#fff" fill-opacity="0.45"/><circle cx="853.4" cy="690.5" r="2.2" fill="#6b9cc6"/>
<circle cx="852" cy="706.2" r="3.4" fill="#fff" fill-opacity="0.45"/><circle cx="852" cy="706.2" r="2.2" fill="#6b9cc6"/>
<circle cx="845.4" cy="715.6" r="3.4" fill="#fff" fill-opacity="0.45"/><circle cx="845.4" cy="715.6" r="2.2" fill="#6b9cc6"/>
<circle cx="857.4" cy="734.7" r="3.4" fill="#fff" fill-opacity="0.45"/><circle cx="857.4" cy="734.7" r="2.2" fill="#6b9cc6"/>
</svg></body></html>
